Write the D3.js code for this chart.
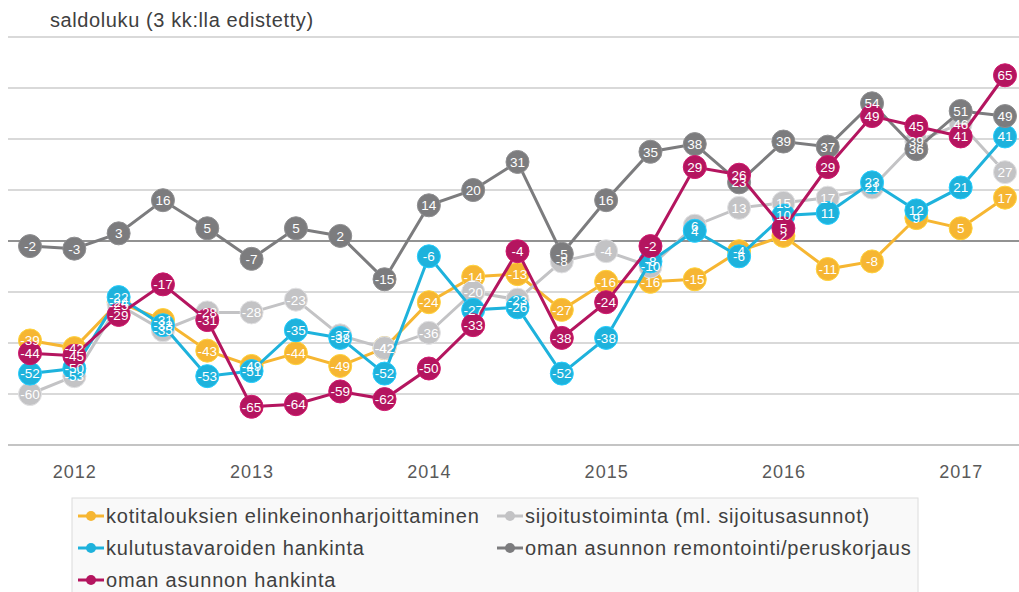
<!DOCTYPE html>
<html>
<head>
<meta charset="utf-8">
<script src="https://cdn.jsdelivr.net/npm/d3@7"></script>
<style>
	body { margin: 0; background: #fff; }
	text { font-family: "Liberation Sans", Arial, sans-serif; }
</style>
</head>
<body>
<svg id="chart" width="1019" height="592"></svg>
<script>
var periods = ['2011Q4',
	'2012Q1', '2012Q2', '2012Q3', '2012Q4',
	'2013Q1', '2013Q2', '2013Q3', '2013Q4',
	'2014Q1', '2014Q2', '2014Q3', '2014Q4',
	'2015Q1', '2015Q2', '2015Q3', '2015Q4',
	'2016Q1', '2016Q2', '2016Q3', '2016Q4',
	'2017Q1', '2017Q2'];

var tickPeriods = ['2012Q1', '2013Q1', '2014Q1', '2015Q1', '2016Q1', '2017Q1'];
var tickLabels = ['2012', '2013', '2014', '2015', '2016', '2017'];
var gridValues = [-80, -60, -40, -20, 0, 20, 40, 60, 80];

var seriesNames = [
	'kotitalouksien elinkeinonharjoittaminen',
	'sijoitustoiminta (ml. sijoitusasunnot)',
	'kulutustavaroiden hankinta',
	'oman asunnon remontointi/peruskorjaus',
	'oman asunnon hankinta'
];
var seriesColors = ['#f6b632', '#c3c3c5', '#1eb2dc', '#7c7c7e', '#b4155f'];

var elinkeino = [-39, -42, -24, -31, -43, -49, -44, -49, -42, -24, -14, -13, -27, -16, -16, -15, -4, 2, -11, -8, 9, 5, 17];
var sijoitus = [-60, -53, -25, -35, -28, -28, -23, -37, -42, -36, -20, -23, -8, -4, -10, 6, 13, 15, 17, 21, 39, 46, 27];
var kulutus = [-52, -50, -22, -33, -53, -51, -35, -38, -52, -6, -27, -26, -52, -38, -8, 4, -6, 10, 11, 23, 12, 21, 41];
var remontti = [-2, -3, 3, 16, 5, -7, 5, 2, -15, 14, 20, 31, -5, 16, 35, 38, 23, 39, 37, 54, 36, 51, 49];
var asunto = [-44, -45, -29, -17, -31, -65, -64, -59, -62, -50, -33, -4, -38, -24, -2, 29, 26, 5, 29, 49, 45, 41, 65];

var seriesValues = [elinkeino, sijoitus, kulutus, remontti, asunto];

var width = 1019, height = 592;
var svg = d3.select('#chart');

var x = d3.scalePoint().domain(periods).range([30, 1005]);
var y = d3.scaleLinear().domain([-80, 80]).range([445, 37]);

var series = seriesNames.map(function(name, i) {
	return {
		name: name,
		color: seriesColors[i],
		values: seriesValues[i].map(function(v, j) { return { period: periods[j], value: v }; })
	};
});

// title
svg.append('text')
	.attr('x', 50).attr('y', 27)
	.style('font-size', '20px')
	.style('letter-spacing', '0.6px')
	.attr('fill', '#404040')
	.text('saldoluku (3 kk:lla edistetty)');

// grid
svg.append('g').selectAll('line').data(gridValues).enter().append('line')
	.attr('x1', 8).attr('x2', width)
	.attr('y1', function(d) { return y(d); })
	.attr('y2', function(d) { return y(d); })
	.attr('stroke', function(d) { return d == 0 ? '#6e6e6e' : (d == -80 ? '#c4c4c4' : '#d9d9d9'); })
	.attr('stroke-width', function(d) { return d == 0 ? 1.6 : 2; });

// x axis labels
var xAxis = d3.axisBottom(x)
	.tickValues(tickPeriods)
	.tickFormat(function(d, i) { return tickLabels[i]; })
	.tickSize(0)
	.tickPadding(20);

var axisG = svg.append('g')
	.attr('transform', 'translate(0,' + y(-80) + ')')
	.call(xAxis);
axisG.select('.domain').remove();
axisG.selectAll('text')
	.style('font-size', '18px')
	.style('letter-spacing', '1px')
	.style('font-family', '"Liberation Sans", Arial, sans-serif')
	.attr('fill', '#595959');

// lines and markers
var line = d3.line()
	.x(function(d) { return x(d.period); })
	.y(function(d) { return y(d.value); });

series.forEach(function(s) {
	var g = svg.append('g');
	g.append('path')
		.datum(s.values)
		.attr('d', line)
		.attr('fill', 'none')
		.attr('stroke', s.color)
		.attr('stroke-width', 3);
	g.selectAll('circle').data(s.values).enter().append('circle')
		.attr('cx', function(d) { return x(d.period); })
		.attr('cy', function(d) { return y(d.value); })
		.attr('r', 11.5)
		.attr('fill', s.color)
		.attr('stroke', d3.color(s.color).brighter(0.4))
		.attr('stroke-width', 1);
});

// data labels on top of everything
series.forEach(function(s) {
	svg.append('g').selectAll('text').data(s.values).enter().append('text')
		.attr('x', function(d) { return x(d.period); })
		.attr('y', function(d) { return y(d.value); })
		.attr('dy', '0.36em')
		.attr('text-anchor', 'middle')
		.style('font-size', '13.5px')
		.attr('fill', '#fff')
		.text(function(d) { return d.value; });
});

// legend
var legend = svg.append('g').attr('transform', 'translate(72,498)');
legend.append('rect')
	.attr('width', 846).attr('height', 110)
	.attr('fill', '#f9f9f9')
	.attr('stroke', '#dcdcdc');

var items = legend.selectAll('.item').data(series).enter().append('g')
	.attr('transform', function(d, i) {
		return 'translate(' + (i % 2 == 0 ? 6 : 425) + ',' + (18 + 32 * Math.floor(i / 2)) + ')';
	});
items.append('line')
	.attr('x1', 0).attr('x2', 26)
	.attr('stroke', function(d) { return d.color; })
	.attr('stroke-width', 3);
items.append('circle')
	.attr('cx', 13).attr('r', 5)
	.attr('fill', function(d) { return d.color; });
items.append('text')
	.attr('x', 28).attr('dy', '0.35em')
	.style('font-size', '20px')
	.style('letter-spacing', '0.8px')
	.attr('fill', '#404040')
	.text(function(d) { return d.name; });
</script>
</body>
</html>
